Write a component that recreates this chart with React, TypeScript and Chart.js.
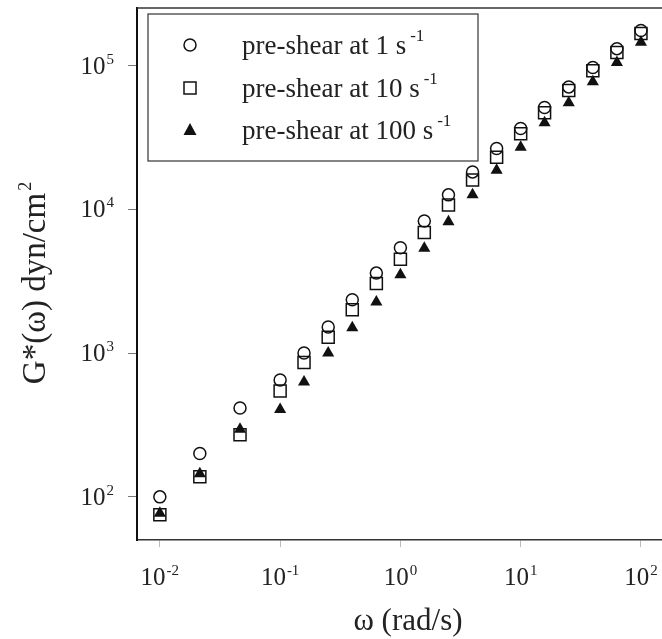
import React, { useEffect, useRef } from "react";
import { Chart, registerables } from "chart.js";

Chart.register(...registerables);

const omega = [0.01, 0.0215, 0.0464, 0.1, 0.158, 0.251, 0.398, 0.631, 1, 1.58, 2.51, 3.98, 6.31, 10, 15.8, 25.1, 39.8, 63.1, 100];
const gShear1 = [100, 200, 415, 650, 1000, 1520, 2350, 3600, 5400, 8300, 12600, 18200, 26500, 36500, 51000, 71000, 97000, 131000, 175000];
const gShear10 = [75, 138, 270, 545, 860, 1290, 2000, 3050, 4500, 6900, 10700, 16000, 23000, 33500, 47000, 67000, 92000, 123000, 167000];
const gShear100 = [77, 145, 295, 405, 630, 1000, 1500, 2270, 3500, 5350, 8200, 12600, 18700, 27000, 40000, 55000, 77000, 105000, 145000];

const seriesLabels = ["pre-shear at 1 s", "pre-shear at 10 s", "pre-shear at 100 s"];
const seriesSup = ["-1", "-1", "-1"];
const xTickExps = [-2, -1, 0, 1, 2];
const yTickExps = [2, 3, 4, 5];
const xTitle = "\u03c9 (rad/s)";
const yTitle = "G*(\u03c9) dyn/cm";
const yTitleSup = "2";

const SERIF = "'Liberation Serif', 'Times New Roman', serif";

function drawSup(ctx: CanvasRenderingContext2D, base: string, sup: string, x: number, y: number, baseSize: number, supSize: number, rise: number, align: "left" | "center" | "right", gap = 1) {
  ctx.font = `${baseSize}px ${SERIF}`;
  const wb = ctx.measureText(base).width;
  ctx.font = `${supSize}px ${SERIF}`;
  const ws = ctx.measureText(sup).width;
  const total = wb + ws + gap;
  let sx = x;
  if (align === "center") sx = x - total / 2;
  if (align === "right") sx = x - total;
  ctx.textAlign = "left";
  ctx.textBaseline = "alphabetic";
  ctx.font = `${baseSize}px ${SERIF}`;
  ctx.fillText(base, sx, y);
  ctx.font = `${supSize}px ${SERIF}`;
  ctx.fillText(sup, sx + wb + gap, y - rise);
}

function drawMarker(ctx: CanvasRenderingContext2D, kind: number, x: number, y: number) {
  ctx.save();
  ctx.strokeStyle = "#111";
  ctx.fillStyle = "#111";
  ctx.lineWidth = 1.5;
  ctx.beginPath();
  if (kind === 0) {
    ctx.arc(x, y, 6, 0, Math.PI * 2);
    ctx.stroke();
  } else if (kind === 1) {
    ctx.rect(x - 6, y - 6, 12, 12);
    ctx.stroke();
  } else {
    ctx.moveTo(x, y - 7);
    ctx.lineTo(x + 6.5, y + 5);
    ctx.lineTo(x - 6.5, y + 5);
    ctx.closePath();
    ctx.fill();
  }
  ctx.restore();
}

const decorPlugin = {
  id: "decor",
  afterDraw(chart: any) {
    const ctx: CanvasRenderingContext2D = chart.ctx;
    const ca = chart.chartArea;
    const xs = chart.scales.x;
    const ys = chart.scales.y;
    ctx.save();
    // top border
    ctx.strokeStyle = "#333";
    ctx.lineWidth = 1.5;
    ctx.beginPath();
    ctx.moveTo(ca.left, ca.top);
    ctx.lineTo(ca.right, ca.top);
    ctx.stroke();

    ctx.fillStyle = "#222";
    // x tick labels
    xTickExps.forEach((e) => {
      const px = xs.getPixelForValue(Math.pow(10, e));
      drawSup(ctx, "10", e < 0 ? "-" + Math.abs(e) : String(e), px, ca.bottom + 45, 25, 15, 10, "center");
    });
    // y tick labels
    yTickExps.forEach((e) => {
      const py = ys.getPixelForValue(Math.pow(10, e));
      drawSup(ctx, "10", String(e), ca.left - 23, py + 8, 25, 15, 10, "right");
    });
    // x title
    ctx.font = `31px ${SERIF}`;
    ctx.textAlign = "center";
    ctx.textBaseline = "alphabetic";
    ctx.fillText(xTitle, 408, ca.bottom + 90);
    // y title
    ctx.save();
    ctx.translate(45, 283);
    ctx.rotate(-Math.PI / 2);
    drawSup(ctx, yTitle, yTitleSup, 0, 0, 33, 18, 14, "center", 2);
    ctx.restore();

    // legend
    const lx = 148, ly = 14, lw = 330, lh = 147;
    ctx.fillStyle = "#fff";
    ctx.fillRect(lx, ly, lw, lh);
    ctx.strokeStyle = "#333";
    ctx.lineWidth = 1.2;
    ctx.strokeRect(lx, ly, lw, lh);
    const rows = [45, 88, 130];
    seriesLabels.forEach((lab, i) => {
      drawMarker(ctx, i, 190, rows[i]);
      ctx.fillStyle = "#222";
      drawSup(ctx, lab, seriesSup[i], 242, rows[i] + 9, 27, 17, 13, "left", 4);
    });
    ctx.restore();
  },
};

export default function App() {
  const ref = useRef<HTMLCanvasElement>(null);
  useEffect(() => {
    if (!ref.current) return;
    const mk = (ys: number[]) => omega.map((x, i) => ({ x, y: ys[i] }));
    const chart = new Chart(ref.current, {
      type: "scatter",
      data: {
        datasets: [
          {
            label: seriesLabels[0],
            data: mk(gShear1),
            pointStyle: "circle",
            pointRadius: 6,
            pointBorderWidth: 1.5,
            pointBorderColor: "#111",
            pointBackgroundColor: "rgba(255,255,255,0)",
          },
          {
            label: seriesLabels[1],
            data: mk(gShear10),
            pointStyle: "rect",
            pointRadius: 8.5,
            pointBorderWidth: 1.5,
            pointBorderColor: "#111",
            pointBackgroundColor: "rgba(255,255,255,0)",
          },
          {
            label: seriesLabels[2],
            data: mk(gShear100),
            pointStyle: "triangle",
            pointRadius: 7,
            pointBorderWidth: 0,
            pointBorderColor: "#111",
            pointBackgroundColor: "#111",
          },
        ],
      },
      options: {
        responsive: false,
        animation: false,
        events: [],
        layout: { autoPadding: false, padding: { top: 8, right: 0, left: 0, bottom: 0 } },
        plugins: { legend: { display: false }, tooltip: { enabled: false } },
        scales: {
          x: {
            type: "logarithmic",
            min: Math.pow(10, -2.19),
            max: Math.pow(10, 2.175),
            afterBuildTicks: (s: any) => {
              s.ticks = xTickExps.map((e) => ({ value: Math.pow(10, e) }));
            },
            afterFit: (s: any) => {
              s.height = 99;
            },
            ticks: { display: false },
            grid: { drawOnChartArea: false, drawTicks: true, tickLength: 7, color: "#bbb" },
            border: { display: true, color: "#333", width: 1.5 },
          },
          y: {
            type: "logarithmic",
            min: Math.pow(10, 1.7),
            max: Math.pow(10, 5.4),
            afterBuildTicks: (s: any) => {
              s.ticks = yTickExps.map((e) => ({ value: Math.pow(10, e) }));
            },
            afterFit: (s: any) => {
              s.width = 137;
            },
            ticks: { display: false },
            grid: { drawOnChartArea: false, drawTicks: true, tickLength: 9, color: "#777" },
            border: { display: true, color: "#111", width: 2 },
          },
        },
      },
      plugins: [decorPlugin],
    });
    return () => chart.destroy();
  }, []);
  return (
    <div style={{ position: "fixed", left: 0, top: 0, width: 662, height: 639, background: "#fff" }}>
      <canvas ref={ref} width={662} height={639} style={{ display: "block" }} />
    </div>
  );
}
